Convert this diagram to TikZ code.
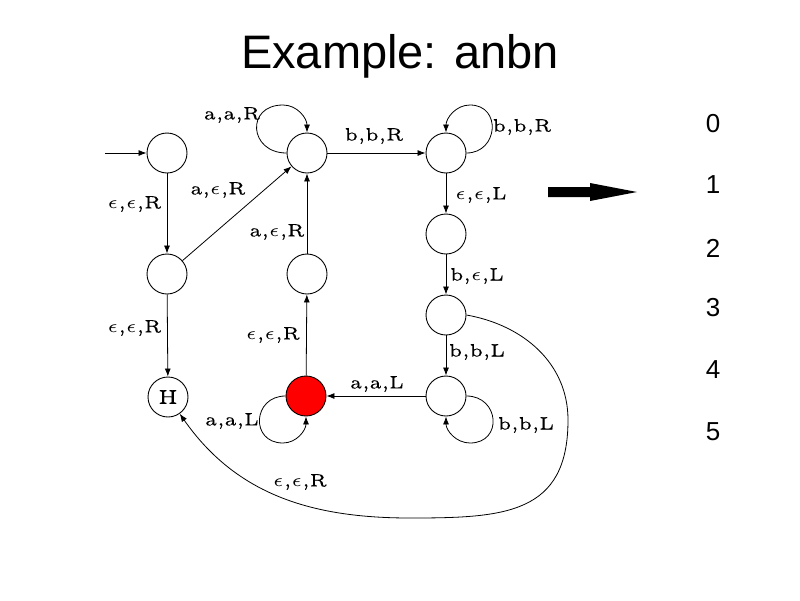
\documentclass[tikz,border=0pt]{standalone}
\usepackage{fontspec}
\newfontfamily\arialf{Liberation Sans}
\newfontface\lmfive[FakeBold=0.4]{lmroman5-regular.otf}
\usetikzlibrary{arrows.meta}
\newcommand\lbl[1]{\scalebox{3.6}{\fontsize{5}{6}\selectfont\lmfive #1}}
\newcommand\eps{\ensuremath{\epsilon}}
\begin{document}
\begin{tikzpicture}[x=1pt,y=1pt,
  st/.style={circle,draw,line width=0.9pt,minimum size=40pt,inner sep=0pt},
  edge/.style={line width=0.8pt,-{Latex[length=8pt,width=6pt]}},
  lab/.style={inner sep=0pt},
  digit/.style={font=\arialf\fontsize{26}{30}\selectfont,inner sep=0pt}]
\useasboundingbox (0,0) rectangle (800,-600);
% title
\node[anchor=base,inner sep=0pt,font=\arialf\fontsize{47}{56}\selectfont] (title) at (400,-68) {Example: anbn};
% states
\node[st] (q0) at (167,-153) {};
\node[st] (q1) at (307,-153) {};
\node[st] (q2) at (446,-153) {};
\node[st] (q3) at (446,-234) {};
\node[st] (qA) at (167,-274) {};
\node[st] (q7) at (307,-274) {};
\node[st] (q4) at (446,-315) {};
\node[st] (H)  at (168,-397) {\scalebox{4.0}{\fontsize{5}{6}\selectfont\lmfive H}};
\node[st,fill=red] (q6) at (306,-396) {};
\node[st] (q5) at (446,-396) {};
% start
\coordinate (start) at (105,-153);
\draw[edge] (start) -- (q0);
% edges
\draw[edge] (q0) -- (qA);
\draw[edge] (qA) -- (H);
\draw[edge] (qA) -- (q1);
\draw[edge] (q7) -- (q1);
\draw[edge] (q6) -- (q7);
\draw[edge] (q1) -- (q2);
\draw[edge] (q2) -- (q3);
\draw[edge] (q3) -- (q4);
\draw[edge] (q4) -- (q5);
\draw[edge] (q5) -- (q6);
% loops
\draw[edge] (q1.west) to[out=180,in=180,looseness=2] (283,-105) to[out=0,in=90] (q1.north);
\draw[edge] (q2.east) to[out=0,in=0,looseness=1.7] (470,-105) to[out=180,in=90] (q2.north);
\draw[edge] (q5.east) to[out=0,in=0,looseness=1.8] (470,-443) to[out=180,in=-90] (q5.south);
\draw[edge] (q6.west) to[out=180,in=180,looseness=1.8] (283,-443) to[out=0,in=-90] (q6.south);
% long curve
\draw[edge] (q4.east) to[out=-10,in=90] (568,-420) to[out=-90,in=0,looseness=1.3] (410,-518) to[out=180,in=-55] (H.-55);
% labels
\node[lab] (l1) at (134.5,-204) {\lbl{\eps,\eps,R}};
\node[lab] (l2) at (134.5,-328) {\lbl{\eps,\eps,R}};
\node[lab] (l3) at (218,-190) {\lbl{a,\eps,R}};
\node[lab] (l4) at (277,-232) {\lbl{a,\eps,R}};
\node[lab] (l5) at (273,-335) {\lbl{\eps,\eps,R}};
\node[lab] (l6) at (374,-136) {\lbl{b,b,R}};
\node[lab] (l7) at (232,-115) {\lbl{a,a,R}};
\node[lab] (l8) at (522,-127) {\lbl{b,b,R}};
\node[lab] (l9) at (481,-195) {\lbl{\eps,\eps,L}};
\node[lab] (l10) at (477,-276) {\lbl{b,\eps,L}};
\node[lab] (l11) at (477,-352) {\lbl{b,b,L}};
\node[lab] (l12) at (526,-425) {\lbl{b,b,L}};
\node[lab] (l13) at (377,-384) {\lbl{a,a,L}};
\node[lab] (l14) at (232,-421) {\lbl{a,a,L}};
\node[lab] (l15) at (300,-482) {\lbl{\eps,\eps,R}};
% big arrow
\fill (548,-187) -- (590,-187) -- (590,-183) -- (637,-192) -- (590,-201) -- (590,-197) -- (548,-197) -- cycle;
% digits
\node[digit] (d0) at (713,-124) {0};
\node[digit] (d1) at (713,-185) {1};
\node[digit] (d2) at (713,-248) {2};
\node[digit] (d3) at (713,-308) {3};
\node[digit] (d4) at (713,-370) {4};
\node[digit] (d5) at (713,-432) {5};
\end{tikzpicture}
\end{document}
